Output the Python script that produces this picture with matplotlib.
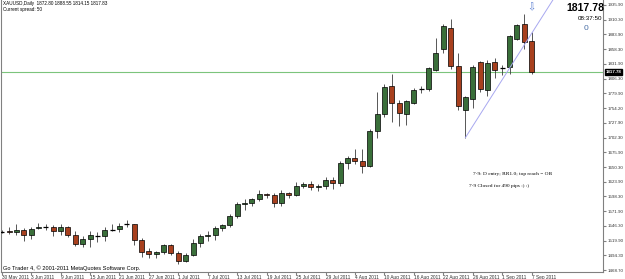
import pandas as pd
import matplotlib
matplotlib.use("Agg")
import matplotlib.pyplot as plt
from matplotlib.transforms import blended_transform_factory

# XAUUSD daily bars, 30 May 2011 .. 7 Sep 2011
OPENS = [1536, 1538, 1535, 1540, 1531, 1543, 1545, 1545, 1537, 1544,
         1530, 1515, 1524, 1528, 1528, 1540, 1541, 1549, 1549, 1522,
         1502, 1497, 1501, 1512, 1499, 1484, 1495, 1516, 1529, 1530,
         1542, 1548, 1564, 1585, 1586, 1594, 1602, 1601, 1586, 1604,
         1601, 1617, 1620, 1615, 1616, 1627, 1622, 1658, 1666, 1660,
         1652, 1714, 1744, 1793, 1764, 1744, 1764, 1787, 1787, 1822,
         1858, 1896, 1828, 1751, 1771, 1836, 1786, 1836, 1824, 1826,
         1876, 1902, 1872.80]
HIGHS = [1540, 1544, 1549, 1542, 1544, 1551, 1549, 1548, 1550, 1546,
         1537, 1529, 1537, 1535, 1544, 1549, 1552, 1556, 1550, 1525,
         1508, 1503, 1515, 1515, 1502, 1499, 1524, 1533, 1537, 1546,
         1550, 1568, 1588, 1594, 1596, 1610, 1605, 1604, 1610, 1606,
         1624, 1623, 1625, 1621, 1632, 1632, 1661, 1669, 1682, 1682,
         1718, 1782, 1797, 1814, 1768, 1768, 1790, 1793, 1826, 1877,
         1903, 1911, 1852, 1776, 1830, 1838, 1839, 1843, 1830, 1883,
         1903, 1920, 1888.55]
LOWS = [1534, 1532, 1530, 1519, 1523, 1541, 1540, 1528, 1530, 1527,
        1511, 1510, 1509, 1518, 1520, 1537, 1536, 1544, 1513, 1492,
        1490, 1490, 1497, 1496, 1479, 1482, 1493, 1510, 1520, 1521,
        1538, 1545, 1560, 1575, 1582, 1590, 1595, 1579, 1581, 1595,
        1600, 1613, 1610, 1608, 1612, 1611, 1617, 1647, 1656, 1640,
        1650, 1702, 1738, 1730, 1722, 1725, 1762, 1780, 1785, 1820,
        1852, 1823, 1750, 1702, 1754, 1783, 1776, 1808, 1813, 1815,
        1874, 1858, 1814.15]
CLOSES = [1536, 1535, 1540, 1531, 1541, 1544, 1545, 1537, 1544, 1531,
          1515, 1524, 1530, 1528, 1539, 1540, 1547, 1549, 1521, 1501,
          1497, 1501, 1512, 1499, 1484, 1495, 1516, 1529, 1531, 1542,
          1548, 1564, 1585, 1586, 1594, 1602, 1601, 1586, 1604, 1601,
          1617, 1620, 1615, 1616, 1627, 1622, 1658, 1666, 1660, 1652,
          1714, 1743, 1792, 1764, 1746, 1766, 1786, 1787, 1824, 1851,
          1899, 1828, 1758, 1773, 1827, 1787, 1834, 1822, 1824, 1882,
          1900, 1871, 1817.83]

FIRST_DAY = "2011-05-30"
LABEL_EVERY = 4
Y_TICKS = [1468.70, 1494.30, 1519.90, 1546.30, 1571.90, 1598.30, 1623.90,
           1650.30, 1675.90, 1702.30, 1727.90, 1754.20, 1779.90, 1806.30,
           1831.90, 1858.30, 1883.90, 1910.30, 1935.90]
CURRENT_PRICE = 1817.78
TREND_X = [63, 75]
TREND_Y = [1702, 1947]

HEADER = "XAUUSD,Daily  1872.80 1888.55 1814.15 1817.83"
SPREAD = "Current spread: 50"
CLOCK = "08:37:50"
COPYRIGHT = "Go Trader 4, \u00a9 2001-2011 MetaQuotes Software Corp."
NOTE_1 = "7-9: D entry; RR1.0; top reach = OB"
NOTE_2 = "7-9 Closed for 490 pips :) :)"

W, H = 625, 279
BULL = "#3a6f3a"
BEAR = "#a8401e"


def main():
    plt.rcParams['font.family'] = ['Liberation Sans', 'DejaVu Sans']
    fig = plt.figure(figsize=(W / 100, H / 100), dpi=100)
    fig.patch.set_facecolor("white")

    # plot area: pixel x 1..603, pixel y 0..272
    ax = fig.add_axes([1 / W, 7 / H, 602 / W, 272 / H])
    ax.set_xlim(-0.095, 81.7)
    ax.set_ylim(1465.2, 1944.7)

    n = len(OPENS)
    dates = pd.bdate_range(FIRST_DAY, periods=n)
    xs = list(range(n))
    half = 0.34

    # wicks
    ax.vlines(xs, LOWS, HIGHS, color="#3c3c3c", lw=0.6, zorder=2)

    # bodies
    for x, o, c in zip(xs, OPENS, CLOSES):
        if o == c:
            ax.hlines(c, x - half, x + half, color="black", lw=0.9, zorder=3)
            continue
        ax.bar(x, abs(c - o), bottom=min(o, c), width=2 * half,
               color=BULL if c > o else BEAR, edgecolor="black",
               linewidth=0.5, zorder=3)

    # current price line and trend line
    ax.axhline(CURRENT_PRICE, color="#7cc47c", lw=0.8, zorder=1)
    ax.plot(TREND_X, TREND_Y, color="#a8a8f0", lw=0.7, zorder=4)

    # down arrow over the last bar
    ax.text(n - 1, 1931, "\u21e9", family="DejaVu Sans", fontsize=7,
            color="#5b7fd1", ha="center", va="center")

    # axes styling
    for side in ("left", "right", "bottom"):
        ax.spines[side].set_color("#808080")
        ax.spines[side].set_linewidth(0.8)
    ax.spines["top"].set_visible(False)

    ax.yaxis.tick_right()
    ax.set_yticks(Y_TICKS)
    ax.set_yticklabels([f"{v:.2f}" for v in Y_TICKS])
    ax.tick_params(axis="y", labelsize=3.2, length=2, pad=1,
                   color="#808080", labelcolor="#303030")

    pos = xs[::LABEL_EVERY]
    lbls = [f"{dates[i].day} {dates[i].strftime('%b %Y')}" for i in pos]
    ax.set_xticks(pos)
    ax.set_xticklabels(lbls, ha="left")
    ax.tick_params(axis="x", labelsize=3.4, length=2, pad=0.5,
                   color="#808080", labelcolor="#303030")

    # price box on the axis
    tr = blended_transform_factory(ax.transAxes, ax.transData)
    ax.text(1.004, CURRENT_PRICE, f"{CURRENT_PRICE:.2f}", transform=tr,
            ha="left", va="center", fontsize=3.2, color="white",
            fontweight="bold",
            bbox=dict(facecolor="black", edgecolor="black", pad=0.5))

    # header texts
    def px(x, y):
        return x / W, 1 - y / H

    fig.text(*px(3, 4), HEADER, fontsize=3.3, va="center", color="black")
    fig.text(*px(3, 10), SPREAD, fontsize=3.3, va="center", color="black")
    fig.text(*px(604, 8), f"{CURRENT_PRICE:.2f}", fontsize=7.5,
             fontweight="bold", ha="right", va="center", color="black")
    fig.text(*px(602, 18.5), CLOCK, fontsize=4.5, ha="right", va="center",
             color="black")
    fig.text(*px(586, 28), "0", fontsize=6, ha="center", va="center",
             color="#4a6fa5")
    fig.text(*px(3, 268), COPYRIGHT, fontsize=4.1, va="center",
             color="black")

    # notes
    fig.text(*px(473, 174), NOTE_1, family="Liberation Serif", fontsize=3.9,
             va="center", color="black")
    fig.text(*px(469, 186), NOTE_2, family="Liberation Serif", fontsize=3.9,
             va="center", color="black")

    fig.savefig("out.png", dpi=100, facecolor="white")


if __name__ == "__main__":
    main()
